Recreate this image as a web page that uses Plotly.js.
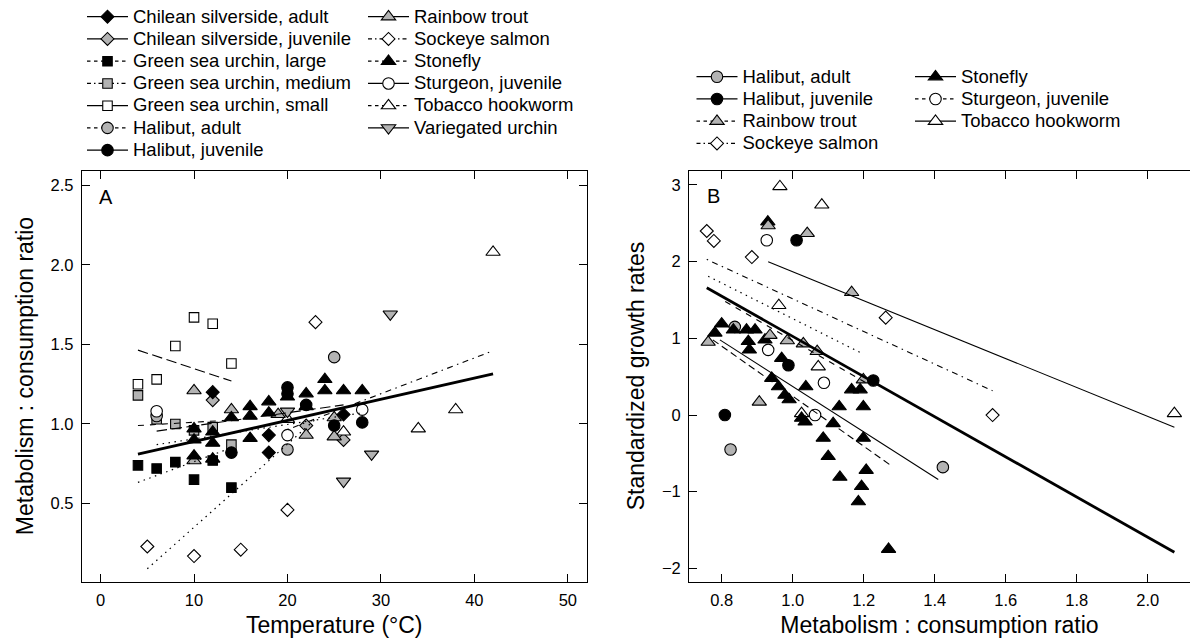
<!DOCTYPE html>
<html><head><meta charset="utf-8">
<script src="https://cdn.plot.ly/plotly-3.0.1.min.js"></script>
<style>html,body{margin:0;padding:0;background:#fff}#chart{width:1190px;height:641px}</style>
</head><body><div id="chart"></div>
<script>
// ---------------- Panel A: metabolism:consumption ratio vs temperature ----------------
const A_CSa_T  = [12, 18, 18, 26];
const A_CSa_R  = [1.20, 0.82, 0.93, 1.06];
const A_CSj_T  = [12, 22, 26];
const A_CSj_R  = [1.15, 0.99, 0.90];
const A_GSUl_T = [4, 6, 8, 10, 12, 14];
const A_GSUl_R = [0.74, 0.72, 0.76, 0.65, 0.77, 0.60];
const A_GSUm_T = [4, 6, 8, 10, 12, 14];
const A_GSUm_R = [1.18, 1.03, 1.00, 0.96, 0.98, 0.87];
const A_GSUs_T = [4, 6, 8, 10, 12, 14];
const A_GSUs_R = [1.25, 1.28, 1.49, 1.67, 1.63, 1.38];
const A_Ha_T   = [6, 20, 25];
const A_Ha_R   = [1.05, 0.84, 1.42];
const A_Hj_T   = [14, 20, 20, 22, 25, 28];
const A_Hj_R   = [0.82, 1.23, 1.19, 1.12, 0.99, 1.01];
const A_RT_T   = [10, 10, 14, 19, 22, 25, 25];
const A_RT_R   = [1.21, 0.77, 1.09, 1.06, 0.93, 1.04, 0.92];
const A_SS_T   = [5, 10, 15, 20, 23];
const A_SS_R   = [0.23, 0.17, 0.21, 0.46, 1.64];
const A_SF_T   = [10, 10, 10, 12, 12, 12, 14, 16, 16, 16, 18, 18, 20, 22, 22, 24, 24, 26, 28];
const A_SF_R   = [0.97, 0.90, 0.80, 0.95, 0.88, 0.78, 1.04, 1.11, 1.05, 0.91, 1.14, 1.07, 1.17, 1.19, 1.11, 1.28, 1.21, 1.21, 1.21];
const A_SJ_T   = [6, 20, 28];
const A_SJ_R   = [1.08, 0.93, 1.09];
const A_TH_T   = [20, 26, 34, 38, 42];
const A_TH_R   = [1.03, 0.95, 0.97, 1.09, 2.08];
const A_VU_T   = [20, 26, 29, 31];
const A_VU_R   = [1.08, 0.64, 0.81, 1.69];

// fitted lines, panel A (end points)
const A_fitAll_T  = [4, 42];   const A_fitAll_R  = [0.81, 1.315];
const A_fitTH_T   = [20, 42];  const A_fitTH_R   = [0.965, 1.46];
const A_fitSS_T   = [5, 23];   const A_fitSS_R   = [0.09, 1.03];
const A_fitGSUs_T = [4, 14];   const A_fitGSUs_R = [1.464, 1.27];
const A_fitGSUl_T = [4, 14];   const A_fitGSUl_R = [0.633, 0.85];
const A_fitGSUm_T = [4, 14];   const A_fitGSUm_R = [0.99, 1.025];
const A_fitHa_T   = [6, 26];   const A_fitHa_R   = [0.955, 1.12];
const A_fitSJ_T   = [6, 28];   const A_fitSJ_R   = [0.87, 1.07];

// ---------------- Panel B: standardized growth vs metabolism:consumption ----------------
const B_Ha_M = [0.837, 0.825, 1.423];
const B_Ha_G = [1.15, -0.45, -0.68];
const B_Hj_M = [1.011, 0.988, 1.227, 0.809];
const B_Hj_G = [2.28, 0.65, 0.45, 0.0];
const B_RT_M = [0.762, 0.931, 1.041, 1.166, 0.936, 0.985, 1.03, 1.069, 1.199, 0.906];
const B_RT_G = [0.95, 2.47, 2.37, 1.60, 1.04, 0.97, 0.93, 0.83, 0.46, 0.17];
const B_SS_M = [0.758, 0.778, 0.885, 1.262, 1.563];
const B_SS_G = [2.40, 2.27, 2.06, 1.27, 0.0];
const B_SF_M = [0.80, 0.781, 0.833, 0.87, 0.894, 0.875, 0.878, 0.922, 0.969, 0.941, 0.96, 0.978, 0.99, 1.037, 1.025, 1.035, 1.131, 1.199, 1.114, 1.086, 1.199, 1.10, 1.207, 1.133, 1.194, 1.185, 1.166, 1.19, 1.27, 0.93];
const B_SF_G = [1.19, 1.07, 1.11, 1.11, 1.11, 0.96, 0.85, 0.98, 0.74, 0.48, 0.37, 0.26, 0.20, 0.37, -0.04, -0.09, 0.11, 0.11, -0.11, -0.30, -0.30, -0.54, -0.72, -0.81, -0.93, -1.13, 0.33, 0.33, -1.75, 2.52];
const B_SJ_M = [0.927, 0.931, 1.088, 1.063];
const B_SJ_G = [2.28, 0.85, 0.42, 0.0];
const B_TH_M = [0.964, 1.082, 0.961, 1.072, 1.025, 2.075];
const B_TH_G = [2.98, 2.74, 1.43, 0.63, 0.02, 0.02];

// fitted lines, panel B
const B_fitAll_M = [0.758, 2.075]; const B_fitAll_G = [1.66, -1.79];
const B_fitTH_M  = [0.931, 2.075]; const B_fitTH_G  = [2.0, -0.16];
const B_fitSS_M  = [0.758, 1.563]; const B_fitSS_G  = [2.03, 0.317];
const B_fitRT_M  = [0.762, 1.199]; const B_fitRT_G  = [1.81, 0.795];
const B_fitSJ_M  = [0.81, 1.21];   const B_fitSJ_G  = [1.48, 0.41];
const B_fitHa_M  = [0.795, 1.41];  const B_fitHa_G  = [0.98, -0.84];
const B_fitSF_M  = [0.775, 1.275]; const B_fitSF_G  = [0.98, -0.652];

// axis ticks
const A_xTicks = [0, 10, 20, 30, 40, 50];
const A_yTicks = [0.5, 1.0, 1.5, 2.0, 2.5];
const A_yTickText = ['0.5', '1.0', '1.5', '2.0', '2.5'];
const B_xTicks = [0.8, 1.0, 1.2, 1.4, 1.6, 1.8, 2.0];
const B_xTickText = ['0.8', '1.0', '1.2', '1.4', '1.6', '1.8', '2.0'];
const B_yTicks = [-2, -1, 0, 1, 2, 3];

// legend names
const N = {
  CSa: 'Chilean silverside, adult', CSj: 'Chilean silverside, juvenile',
  GSUl: 'Green sea urchin, large', GSUm: 'Green sea urchin, medium', GSUs: 'Green sea urchin, small',
  Ha: 'Halibut, adult', Hj: 'Halibut, juvenile', RT: 'Rainbow trout', SS: 'Sockeye salmon',
  SF: 'Stonefly', SJ: 'Sturgeon, juvenile', TH: 'Tobacco hookworm', VU: 'Variegated urchin'
};

// ---------------- styling ----------------
const FONT = 'Liberation Sans, Arial, Helvetica, sans-serif';
const GRAY = '#b3b3b3';
const STY = {
  CSa: {sym: 'diamond', fill: '#000', size: 10},
  CSj: {sym: 'diamond', fill: GRAY, size: 10},
  GSUl: {sym: 'square', fill: '#000', size: 9.5},
  GSUm: {sym: 'square', fill: GRAY, size: 9.5},
  GSUs: {sym: 'square', fill: '#fff', size: 9.5},
  Ha: {sym: 'circle', fill: GRAY, size: 11.5},
  Hj: {sym: 'circle', fill: '#000', size: 11.5},
  RT: {sym: 'triangle-up', fill: GRAY, size: 12.5},
  SS: {sym: 'diamond', fill: '#fff', size: 10},
  SF: {sym: 'triangle-up', fill: '#000', size: 12.5},
  SJ: {sym: 'circle', fill: '#fff', size: 11.5},
  TH: {sym: 'triangle-up', fill: '#fff', size: 12.5},
  VU: {sym: 'triangle-down', fill: GRAY, size: 12.5}
};
const DASH = {
  solid: 'solid', dash: '6px,6px', dot: '1.5px,4.5px', dotdash: '1.5px,4.5px,6px,4.5px',
  longdash: '10.5px,4.5px', shortdash: '3.5px,3.5px', sdotdash: '4px,3px,1.5px,3px'
};

function mk(key) {
  const s = STY[key];
  return {symbol: s.sym, size: s.size, color: s.fill, line: {color: '#000', width: 1.1}};
}
function pts(x, y, key, xa, ya) {
  return {type: 'scatter', mode: 'markers', x: x, y: y, xaxis: xa, yaxis: ya,
    showlegend: false, hoverinfo: 'skip', marker: mk(key), cliponaxis: false};
}
function fit(x, y, dash, w, xa, ya) {
  return {type: 'scatter', mode: 'lines', x: x, y: y, xaxis: xa, yaxis: ya,
    showlegend: false, hoverinfo: 'skip', line: {color: '#000', width: w, dash: dash}};
}
function leg(key, dash, legendId, xa, ya) {
  return {type: 'scatter', mode: 'lines+markers', x: [null], y: [null], xaxis: xa, yaxis: ya,
    name: '<span style="font-size:18.5px">' + N[key] + '</span>', legend: legendId,
    showlegend: true, marker: mk(key), line: {color: '#000', width: 1.2, dash: dash}};
}

const traces = [
  // panel A points
  pts(A_GSUs_T, A_GSUs_R, 'GSUs', 'x', 'y'),
  pts(A_GSUm_T, A_GSUm_R, 'GSUm', 'x', 'y'),
  pts(A_GSUl_T, A_GSUl_R, 'GSUl', 'x', 'y'),
  pts(A_SS_T, A_SS_R, 'SS', 'x', 'y'),
  pts(A_CSj_T, A_CSj_R, 'CSj', 'x', 'y'),
  pts(A_Ha_T, A_Ha_R, 'Ha', 'x', 'y'),
  pts(A_SJ_T, A_SJ_R, 'SJ', 'x', 'y'),
  pts(A_TH_T, A_TH_R, 'TH', 'x', 'y'),
  pts(A_VU_T, A_VU_R, 'VU', 'x', 'y'),
  pts(A_RT_T, A_RT_R, 'RT', 'x', 'y'),
  pts(A_SF_T, A_SF_R, 'SF', 'x', 'y'),
  pts(A_Hj_T, A_Hj_R, 'Hj', 'x', 'y'),
  pts(A_CSa_T, A_CSa_R, 'CSa', 'x', 'y'),
  // panel A fits
  fit(A_fitGSUs_T, A_fitGSUs_R, DASH.longdash, 1.1, 'x', 'y'),
  fit(A_fitGSUl_T, A_fitGSUl_R, DASH.dot, 1.2, 'x', 'y'),
  fit(A_fitGSUm_T, A_fitGSUm_R, DASH.dash, 1.1, 'x', 'y'),
  fit(A_fitHa_T, A_fitHa_R, DASH.longdash, 1.1, 'x', 'y'),
  fit(A_fitSJ_T, A_fitSJ_R, DASH.dot, 1.2, 'x', 'y'),
  fit(A_fitSS_T, A_fitSS_R, DASH.dot, 1.2, 'x', 'y'),
  fit(A_fitTH_T, A_fitTH_R, DASH.dotdash, 1.1, 'x', 'y'),
  fit(A_fitAll_T, A_fitAll_R, 'solid', 2.8, 'x', 'y'),
  // panel B points
  pts(B_SS_M, B_SS_G, 'SS', 'x2', 'y2'),
  pts(B_TH_M, B_TH_G, 'TH', 'x2', 'y2'),
  pts(B_SJ_M, B_SJ_G, 'SJ', 'x2', 'y2'),
  pts(B_Ha_M, B_Ha_G, 'Ha', 'x2', 'y2'),
  pts(B_SF_M, B_SF_G, 'SF', 'x2', 'y2'),
  pts(B_RT_M, B_RT_G, 'RT', 'x2', 'y2'),
  pts(B_Hj_M, B_Hj_G, 'Hj', 'x2', 'y2'),
  // panel B fits
  fit(B_fitTH_M, B_fitTH_G, 'solid', 1.1, 'x2', 'y2'),
  fit(B_fitSS_M, B_fitSS_G, DASH.dotdash, 1.1, 'x2', 'y2'),
  fit(B_fitRT_M, B_fitRT_G, DASH.dot, 1.2, 'x2', 'y2'),
  fit(B_fitSJ_M, B_fitSJ_G, DASH.dash, 1.1, 'x2', 'y2'),
  fit(B_fitHa_M, B_fitHa_G, 'solid', 1.1, 'x2', 'y2'),
  fit(B_fitSF_M, B_fitSF_G, '7px,4px', 1.1, 'x2', 'y2'),
  fit(B_fitAll_M, B_fitAll_G, 'solid', 2.8, 'x2', 'y2'),
  // legend A, column 1
  leg('CSa', 'solid', 'legend', 'x', 'y'),
  leg('CSj', 'solid', 'legend', 'x', 'y'),
  leg('GSUl', DASH.shortdash, 'legend', 'x', 'y'),
  leg('GSUm', DASH.sdotdash, 'legend', 'x', 'y'),
  leg('GSUs', 'solid', 'legend', 'x', 'y'),
  leg('Ha', DASH.shortdash, 'legend', 'x', 'y'),
  leg('Hj', 'solid', 'legend', 'x', 'y'),
  // legend A, column 2
  leg('RT', 'solid', 'legend2', 'x', 'y'),
  leg('SS', DASH.sdotdash, 'legend2', 'x', 'y'),
  leg('SF', DASH.shortdash, 'legend2', 'x', 'y'),
  leg('SJ', 'solid', 'legend2', 'x', 'y'),
  leg('TH', DASH.shortdash, 'legend2', 'x', 'y'),
  leg('VU', 'solid', 'legend2', 'x', 'y'),
  // legend B, column 1
  leg('Ha', 'solid', 'legend3', 'x2', 'y2'),
  leg('Hj', 'solid', 'legend3', 'x2', 'y2'),
  leg('RT', DASH.shortdash, 'legend3', 'x2', 'y2'),
  leg('SS', DASH.sdotdash, 'legend3', 'x2', 'y2'),
  // legend B, column 2
  leg('SF', 'solid', 'legend4', 'x2', 'y2'),
  leg('SJ', DASH.shortdash, 'legend4', 'x2', 'y2'),
  leg('TH', 'solid', 'legend4', 'x2', 'y2')
];

const axBase = {
  showline: true, mirror: 'ticks', linecolor: '#000', linewidth: 1,
  ticks: 'inside', ticklen: 8, tickwidth: 1, tickcolor: '#000',
  showgrid: false, zeroline: false, fixedrange: true,
  tickfont: {size: 16.5, family: FONT, color: '#000'}, tickmode: 'array'
};
const titleFont = {size: 23, family: FONT, color: '#000'};
const legBase = {
  xanchor: 'left', yanchor: 'top', bgcolor: 'rgba(0,0,0,0)', borderwidth: 0,
  font: {size: 14.8, family: FONT, color: '#000'}, itemwidth: 41, traceorder: 'normal',
  orientation: 'v', tracegroupgap: 0
};
const yDomain = [1 - 581.5 / 641, 1 - 170.5 / 641];
const B_yRange = [-2.171, 3.189];

const layout = {
  width: 1190, height: 641,
  margin: {l: 0, r: 0, t: 0, b: 0, pad: 0},
  paper_bgcolor: '#fff', plot_bgcolor: 'rgba(0,0,0,0)',
  font: {family: FONT, color: '#000'},
  xaxis: Object.assign({}, axBase, {
    domain: [81.7 / 1190, 586.7 / 1190], range: [-2.02, 52.02], anchor: 'y',
    tickvals: A_xTicks, ticktext: A_xTicks.map(String), ticklabelstandoff: 4,
    title: {text: 'Temperature (°C)', font: titleFont, standoff: 8}
  }),
  yaxis: Object.assign({}, axBase, {
    domain: yDomain, range: [0.01, 2.593], anchor: 'x',
    tickvals: A_yTicks, ticktext: A_yTickText, ticklabelstandoff: 4,
    title: {text: 'Metabolism : consumption ratio', font: titleFont, standoff: 10}
  }),
  xaxis2: Object.assign({}, axBase, {
    domain: [689 / 1190, 1], range: [0.708, 2.119], anchor: 'y2',
    tickvals: B_xTicks, ticktext: B_xTickText, ticklabelstandoff: 4,
    title: {text: 'Metabolism : consumption ratio', font: titleFont, standoff: 8}
  }),
  yaxis2: Object.assign({}, axBase, {
    domain: yDomain, range: B_yRange, anchor: 'x2', mirror: false,
    tickvals: B_yTicks, ticktext: B_yTicks.map(v => v < 0 ? '\u2212' + Math.abs(v) : String(v)),
    ticklabelstandoff: 4,
    title: {text: 'Standardized growth rates', font: titleFont, standoff: 10}
  }),
  // right-hand ticks of panel B (its right frame lies at the image edge)
  yaxis3: {
    overlaying: 'y2', anchor: 'x2', side: 'right', range: B_yRange, domain: yDomain,
    showline: false, ticks: 'inside', ticklen: 8, tickwidth: 1, tickcolor: '#000',
    showgrid: false, zeroline: false, showticklabels: false, fixedrange: true,
    tickmode: 'array', tickvals: B_yTicks
  },
  legend:  Object.assign({}, legBase, {x: 82 / 1190, y: 1 - 0.6 / 641}),
  legend2: Object.assign({}, legBase, {x: 363 / 1190, y: 1 - 0.6 / 641}),
  legend3: Object.assign({}, legBase, {x: 691.5 / 1190, y: 1 - 60.6 / 641}),
  legend4: Object.assign({}, legBase, {x: 910 / 1190, y: 1 - 60.6 / 641}),
  annotations: [
    {text: 'A', xref: 'paper', yref: 'paper', x: 105.5 / 1190, y: 1 - 197 / 641,
     xanchor: 'center', yanchor: 'middle', showarrow: false, font: {size: 20, family: FONT, color: '#000'}},
    {text: 'B', xref: 'paper', yref: 'paper', x: 713.5 / 1190, y: 1 - 195.5 / 641,
     xanchor: 'center', yanchor: 'middle', showarrow: false, font: {size: 20, family: FONT, color: '#000'}}
  ],
  showlegend: true
};

Plotly.newPlot('chart', traces, layout, {staticPlot: true, displayModeBar: false});
</script></body></html>
